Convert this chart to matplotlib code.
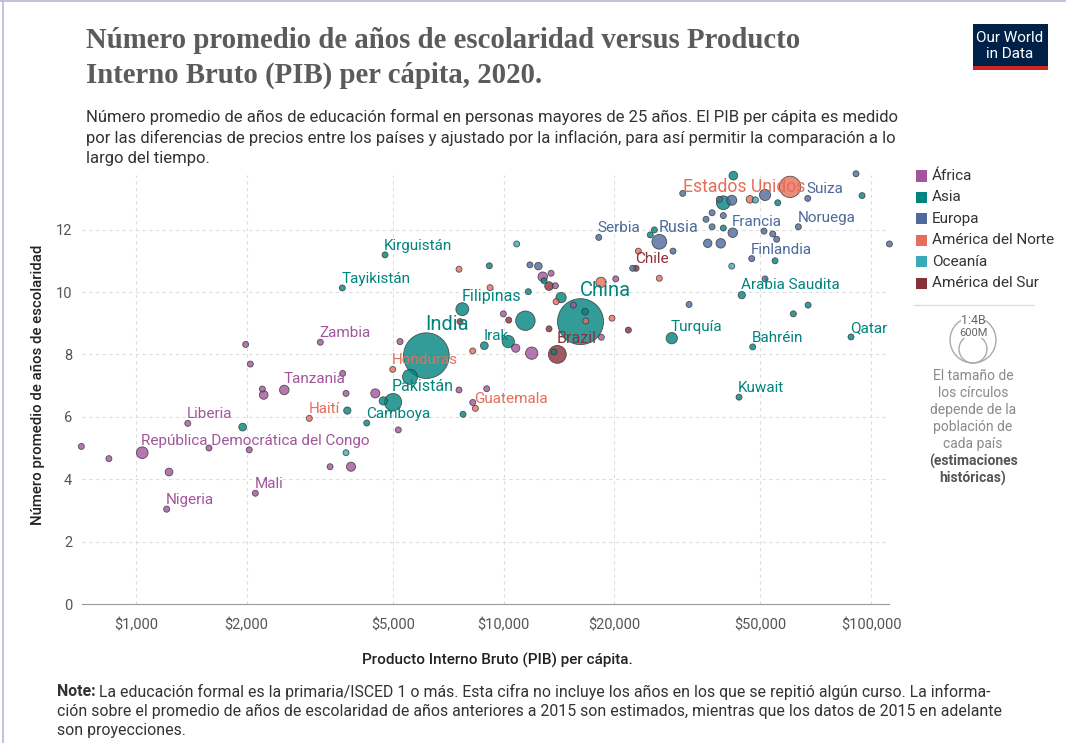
import numpy as np
import pandas as pd
import matplotlib
matplotlib.use('Agg')
import matplotlib.pyplot as plt
from matplotlib.patches import Rectangle, Circle
from matplotlib.lines import Line2D
from matplotlib.ticker import NullLocator

plt.rcParams['font.family'] = ['Roboto', 'DejaVu Sans']

W, H = 1066, 743

# datos: PIB per capita, años de escolaridad, poblacion (millones), nombre
africa_pib = [710, 844, 1040, 1230, 1212, 1383, 1580, 1988, 2047, 2033, 2112, 2207, 2226, 2532,
              3173, 3651, 3728, 3373, 3846, 4479, 5172, 5228, 7566, 9001, 8246, 10794, 11931,
              9989, 12787, 13472, 13840, 15490, 18460, 20200]
africa_anos = [5.05, 4.66, 4.85, 4.23, 3.04, 5.79, 5.00, 8.32, 7.69, 4.94, 3.55, 6.89, 6.70, 6.86,
               8.39, 7.39, 6.75, 4.40, 4.40, 6.75, 5.58, 8.41, 6.86, 6.90, 6.46, 8.20, 8.04,
               9.30, 10.49, 10.60, 10.20, 9.58, 8.55, 10.42]
africa_pob = [5, 5, 90, 40, 25, 5, 5, 5, 5, 5, 5, 5, 50, 60,
              5, 5, 5, 5, 55, 55, 5, 25, 5, 5, 5, 45, 100,
              5, 60, 5, 5, 5, 5, 5]
africa_nombres = ['', '', 'República Democrática del Congo', '', 'Nigeria', 'Liberia', '', '', '', '',
                  'Mali', '', '', 'Tanzania', 'Zambia', '', '', '', '', '', '', '', '', '', '', '', '',
                  '', '', '', '', '', '', '']

asia_pib = [4760, 3642, 1951, 3758, 4245, 4708, 5004, 5567, 6167, 7759, 7725, 8868, 10305, 11470,
            16200, 16670, 14340, 9150, 11680, 12890, 13720, 25080, 25730, 28690, 44490, 47640,
            88200, 43730, 67400, 61460, 54800, 39630, 42200, 39630, 55740, 94520]
asia_anos = [11.19, 10.13, 5.67, 6.20, 5.80, 6.51, 6.47, 7.28, 7.96, 6.08, 9.45, 8.28, 8.41, 9.08,
             9.05, 9.37, 9.82, 10.84, 10.01, 10.36, 8.08, 11.83, 11.99, 8.52, 9.90, 8.24,
             8.56, 6.63, 9.58, 9.30, 11.00, 12.86, 13.73, 12.05, 12.86, 13.09]
asia_pob = [5, 5, 40, 35, 12, 45, 200, 150, 1380, 5, 110, 40, 100, 250,
            1400, 30, 70, 5, 5, 5, 5, 5, 5, 85, 35, 5,
            5, 5, 5, 5, 5, 126, 50, 5, 5, 5]
asia_nombres = ['Kirguistán', 'Tayikistán', '', '', 'Camboya', '', 'Pakistán', '', 'India', '',
                'Filipinas', 'Irak', '', '', 'China', '', '', '', '', '', '', '', '', 'Turquía',
                'Arabia Saudita', 'Bahréin', 'Qatar', 'Kuwait', '', '', '', '', '', '', '', '']

europa_pib = [18160, 26540, 22460, 28920, 31980, 30730, 35560, 36940, 36940, 39630, 38650, 41780,
              51470, 67270, 42040, 35940, 39000, 51140, 54010, 55380, 63420, 47350, 51470,
              91000, 112200, 11800, 12440]
europa_anos = [11.75, 11.61, 10.76, 11.31, 9.60, 13.16, 12.33, 12.54, 12.09, 12.45, 12.97, 12.94,
               13.11, 13.00, 11.90, 11.56, 11.56, 11.95, 11.86, 11.69, 12.09, 11.07, 10.42,
               13.79, 11.54, 10.87, 10.83]
europa_pob = [5, 144, 5, 5, 5, 5, 5, 5, 5, 5, 5, 67,
              83, 5, 60, 47, 60, 5, 5, 5, 5, 5, 5,
              5, 5, 5, 38]
europa_nombres = ['Serbia', 'Rusia', '', '', '', '', '', '', '', '', '', '',
                  '', 'Suiza', 'Francia', '', '', '', '', '', 'Noruega', 'Finlandia', '',
                  '', '', '', '']

norte_pib = [2962, 4995, 8383, 8246, 7566, 9192, 13900, 16740, 18420, 19730, 23270, 26540,
             60200, 46830]
norte_anos = [5.95, 7.52, 6.27, 8.11, 10.73, 10.14, 9.69, 9.07, 10.31, 9.16, 11.31, 10.44,
              13.37, 12.97]
norte_pob = [11, 10, 17, 5, 5, 5, 5, 5, 70, 5, 5, 5, 300, 38]
norte_nombres = ['Haití', 'Honduras', 'Guatemala', '', '', '', '', '', '', '', '', '',
                 'Estados Unidos', '']

oceania_pib = [3728, 10860, 48430, 41780]
oceania_anos = [4.85, 11.54, 12.95, 10.83]
oceania_pob = [9, 5, 26, 5]
oceania_nombres = ['', '', '', '']

sur_pib = [14010, 22940, 13300, 10330, 7614, 13300, 21860]
sur_anos = [8.00, 10.76, 10.19, 9.10, 9.05, 8.82, 8.78]
sur_pob = [212, 19, 50, 5, 5, 5, 5]
sur_nombres = ['Brazil', 'Chile', '', '', '', '', '']

regiones = ['África', 'Asia', 'Europa', 'América del Norte', 'Oceanía', 'América del Sur']
colores = ['#a2559c', '#00847e', '#4c6a9c', '#e56e5a', '#38aaba', '#883039']

x_ticks = [1000, 2000, 5000, 10000, 20000, 50000, 100000]
x_ticklabels = ['\\$1,000', '\\$2,000', '\\$5,000', '\\$10,000', '\\$20,000', '\\$50,000', '\\$100,000']
y_ticks = [0, 2, 4, 6, 8, 10, 12]

# armar tabla
grupos = [
    (africa_pib, africa_anos, africa_pob, africa_nombres),
    (asia_pib, asia_anos, asia_pob, asia_nombres),
    (europa_pib, europa_anos, europa_pob, europa_nombres),
    (norte_pib, norte_anos, norte_pob, norte_nombres),
    (oceania_pib, oceania_anos, oceania_pob, oceania_nombres),
    (sur_pib, sur_anos, sur_pob, sur_nombres),
]
partes = []
for reg, col, (p, a, n, nom) in zip(regiones, colores, grupos):
    partes.append(pd.DataFrame({'pib': p, 'anos': a, 'pob': n, 'nombre': nom,
                                'region': reg, 'color': col}))
df = pd.concat(partes, ignore_index=True)

# radio en pixeles: 1.4B -> 23 px, minimo 3 px
df['r'] = np.maximum(3.0, 23 * np.sqrt(df['pob'] / 1400))
df['s'] = (2 * df['r'] * 72 / 100) ** 2
df = df.sort_values('pob', ascending=False)

fig = plt.figure(figsize=(W / 100, H / 100), dpi=100)
fig.patch.set_facecolor('white')

ax = fig.add_axes([82 / W, 1 - 604 / H, (889 - 82) / W, (604 - 175) / H])
ax.set_xscale('log')
ax.set_xlim(713, 111900)
ax.set_ylim(0, 13.75)

ax.scatter(df['pib'], df['anos'], s=df['s'], c=df['color'], alpha=0.8,
           edgecolors='#333333', linewidths=0.6, clip_on=False, zorder=3)

# etiquetas de paises
tam_etiqueta = {'India': 14.5, 'China': 14.5, 'Estados Unidos': 12.7, 'Brazil': 11.5,
                'Rusia': 11.5, 'Pakistán': 11.5, 'Filipinas': 11.5}
for _, row in df[df['nombre'] != ''].iterrows():
    fs = tam_etiqueta.get(row['nombre'], 11)
    if row['nombre'] == 'Estados Unidos':
        ha, va, dx, dy = 'right', 'center', 15, 0
    else:
        ha, va, dx, dy = 'left', 'bottom', -1, row['r'] - 1
    ax.annotate(row['nombre'], (row['pib'], row['anos']),
                xytext=(dx * 0.72, dy * 0.72), textcoords='offset points',
                ha=ha, va=va, color=row['color'], fontsize=fs, zorder=5,
                annotation_clip=False)

ax.set_xticks(x_ticks)
ax.set_xticklabels(x_ticklabels)
ax.xaxis.set_minor_locator(NullLocator())
ax.set_yticks(y_ticks)
ax.tick_params(length=0, labelsize=10.5, labelcolor='#555555')
ax.tick_params(axis='x', pad=10)
ax.tick_params(axis='y', pad=7)
ax.grid(True, color='#dddddd', linestyle=(0, (3, 3)), linewidth=0.8)
ax.set_axisbelow(True)
for sp in ['top', 'right', 'left']:
    ax.spines[sp].set_visible(False)
ax.spines['bottom'].set_color('#999999')

# titulos
fig.text(86 / W, 1 - 40 / H, 'Número promedio de años de escolaridad versus Producto',
         fontfamily='Liberation Serif', fontweight='bold', fontsize=20.7, color='#5b5b5b', va='center')
fig.text(86 / W, 1 - 75 / H, 'Interno Bruto (PIB) per cápita, 2020.',
         fontfamily='Liberation Serif', fontweight='bold', fontsize=20.7, color='#5b5b5b', va='center')
subt = ['Número promedio de años de educación formal en personas mayores de 25 años. El PIB per cápita es medido',
        'por las diferencias de precios entre los países y ajustado por la inflación, para así permitir la comparación a lo',
        'largo del tiempo.']
for i, t in enumerate(subt):
    fig.text(86 / W, 1 - (117 + 20.5 * i) / H, t, fontsize=12, color='#333333', va='center')

# logo
fig.patches.append(Rectangle((973 / W, 1 - 70 / H), 75 / W, 46 / H, transform=fig.transFigure,
                             facecolor='#002147', edgecolor='none'))
fig.patches.append(Rectangle((973 / W, 1 - 70 / H), 75 / W, 4 / H, transform=fig.transFigure,
                             facecolor='#ce261e', edgecolor='none'))
fig.text(1010 / W, 1 - 38 / H, 'Our World', color='white', fontsize=11, ha='center', va='center')
fig.text(1010 / W, 1 - 54 / H, 'in Data', color='white', fontsize=11, ha='center', va='center')

# ejes
fig.text(38 / W, 1 - 385 / H, 'Número promedio de años de escolaridad', rotation=90,
         fontsize=10.8, fontweight='medium', color='#222222', ha='center', va='center')
fig.text(497 / W, 1 - 660 / H, 'Producto Interno Bruto (PIB) per cápita.',
         fontsize=11, fontweight='medium', color='#222222', ha='center', va='center')

# leyenda de regiones
for i, (reg, col) in enumerate(zip(regiones, colores)):
    yc = 176 + 21.4 * i
    fig.patches.append(Rectangle((916 / W, 1 - (yc + 5.5) / H), 11 / W, 11 / H,
                                 transform=fig.transFigure, facecolor=col, edgecolor='none'))
    fig.text(932 / W, 1 - yc / H, reg, fontsize=11, color='#333333', va='center')

fig.add_artist(Line2D([914 / W, 1033 / W], [1 - 305 / H, 1 - 305 / H], color='#dddddd', lw=1))

# leyenda de tamaños
fig.add_artist(Circle((973 / 100, (H - 340) / 100), 0.23, transform=fig.dpi_scale_trans,
                      facecolor='none', edgecolor='#aaaaaa', lw=1))
fig.add_artist(Circle((973 / 100, (H - 349) / 100), 0.14, transform=fig.dpi_scale_trans,
                      facecolor='none', edgecolor='#aaaaaa', lw=1))
fig.text(973 / W, 1 - 321 / H, '1:4B', fontsize=9, color='#666666', ha='center', va='center',
         bbox=dict(facecolor='white', edgecolor='none', pad=0))
fig.text(973 / W, 1 - 333 / H, '600M', fontsize=8, color='#666666', ha='center', va='center',
         bbox=dict(facecolor='white', edgecolor='none', pad=0))
notas = ['El tamaño de', 'los círculos', 'depende de la', 'población de', 'cada país']
for i, t in enumerate(notas):
    fig.text(973 / W, 1 - (376 + 17 * i) / H, t, fontsize=10, color='#8a8a8a', ha='center', va='center')
for i, t in enumerate(['(estimaciones', 'históricas)']):
    fig.text(973 / W, 1 - (461 + 17 * i) / H, t, fontsize=10, color='#555555', fontweight='bold',
             ha='center', va='center')

# nota al pie
fig.text(57 / W, 1 - 692 / H, 'Note:', fontsize=11.4, fontweight='bold', color='#333333', va='center')
fig.text(99 / W, 1 - 692 / H,
         'La educación formal es la primaria/ISCED 1 o más. Esta cifra no incluye los años en los que se repitió algún curso. La informa-',
         fontsize=11.4, color='#333333', va='center')
fig.text(57 / W, 1 - 711 / H,
         'ción sobre el promedio de años de escolaridad de años anteriores a 2015 son estimados, mientras que los datos de 2015 en adelante',
         fontsize=11.4, color='#333333', va='center')
fig.text(57 / W, 1 - 731 / H, 'son proyecciones.', fontsize=11.4, color='#333333', va='center')

# marco
fig.add_artist(Line2D([0, 1], [1 - 1 / H, 1 - 1 / H], color='#b8b8d8', lw=1.2))
fig.add_artist(Line2D([3 / W, 3 / W], [0, 1], color='#b8b8d8', lw=1.2))

fig.savefig('out.png', dpi=100)
